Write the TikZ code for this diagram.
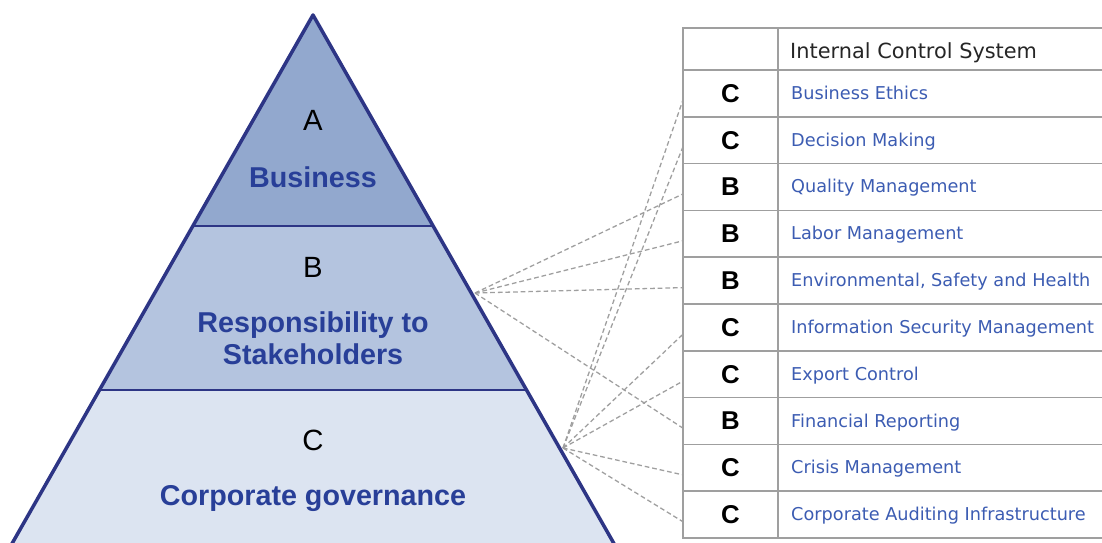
\documentclass[tikz,border=0pt]{standalone}
\usepackage{fontspec}
\setmainfont{Liberation Sans}
\newfontfamily\tablefont{DejaVu Sans}

\definecolor{tierAfill}{HTML}{92A8CE}
\definecolor{tierBfill}{HTML}{B4C4DF}
\definecolor{tierCfill}{HTML}{DCE4F1}
\definecolor{pyrline}{HTML}{2D3585}
\definecolor{pyrtext}{HTML}{283F98}
\definecolor{itemblue}{HTML}{3C5CB2}

\begin{document}
\begin{tikzpicture}[x=0.03cm, y=-0.03cm,
  tier/.style={draw=pyrline, line width=3pt, line join=round},
  tierletter/.style={anchor=base, inner sep=0pt, font=\fontsize{25}{30}\selectfont},
  tiertext/.style={anchor=base, inner sep=0pt, text=pyrtext, font=\fontsize{24.5}{29}\selectfont\bfseries},
  grid/.style={draw=gray!75, line width=1.4pt},
  grade/.style={minimum width=2.85cm, minimum height=1.4cm, inner sep=0pt, font=\fontsize{22}{26}\selectfont\bfseries},
  item/.style={anchor=base west, inner sep=0pt, text=itemblue, font=\tablefont\fontsize{15.1}{18}\selectfont},
  link/.style={draw=gray!75, dashed, dash pattern=on 4pt off 2.5pt, line width=1.1pt}]

\useasboundingbox (0,0) rectangle (1102,543);

% pyramid
\fill[tierCfill] (313,15) -- (633,577) -- (-7,577) -- cycle;
\fill[tierBfill] (313,15) -- (526,390) -- (100,390) -- cycle;
\fill[tierAfill] (313,15) -- (433,226) -- (193,226) -- cycle;
\draw[tier] (-7,577) -- (313,15) -- (633,577);
\draw[tier, line width=2.4pt] (193,226) -- (433,226);
\draw[tier, line width=2.4pt] (100,390) -- (526,390);

% A
\node[tierletter] (lvlA) at (313,131) {A};
\node[tiertext] (tierA) at (313,188) {Business};

% B
\node[tierletter] (lvlB) at (313,278) {B};
\node[tiertext] (tierB) at (313,332) {Responsibility to};
\node[tiertext] (tierBb) at (313,364) {Stakeholders};

% C
\node[tierletter] (lvlC) at (313,450) {C};
\node[tiertext] (tierC) at (313,505) {Corporate governance};

% table
\draw[grid] (1102,28) -- (683,28) -- (683,538) -- (1102,538);
\draw[grid] (778,28) -- (778,538);
\draw[grid] (683,70) -- (1102,70);
\draw[grid] (683,116.8) -- (1102,116.8);
\draw[grid] (683,163.6) -- (1102,163.6);
\draw[grid] (683,210.4) -- (1102,210.4);
\draw[grid] (683,257.2) -- (1102,257.2);
\draw[grid] (683,304) -- (1102,304);
\draw[grid] (683,350.8) -- (1102,350.8);
\draw[grid] (683,397.6) -- (1102,397.6);
\draw[grid] (683,444.4) -- (1102,444.4);
\draw[grid] (683,491.2) -- (1102,491.2);

\node[anchor=base west, inner sep=0pt, text=black!85, font=\tablefont\fontsize{17.8}{21}\selectfont]
  (header) at (790,59) {Internal Control System};

\node[grade] (gEthics) at (730.5,93.4) {C};
\node[item] (iEthics) at (791,99.4) {Business Ethics};

\node[grade] (gDecision) at (730.5,140.2) {C};
\node[item] (iDecision) at (791,146.2) {Decision Making};

\node[grade] (gQuality) at (730.5,187) {B};
\node[item] (iQuality) at (791,193) {Quality Management};

\node[grade] (gLabor) at (730.5,233.8) {B};
\node[item] (iLabor) at (791,239.8) {Labor Management};

\node[grade] (gEnv) at (730.5,280.6) {B};
\node[item] (iEnv) at (791,286.6) {Environmental, Safety and Health};

\node[grade] (gInfo) at (730.5,327.4) {C};
\node[item] (iInfo) at (791,333.4) {Information Security Management};

\node[grade] (gExport) at (730.5,374.2) {C};
\node[item] (iExport) at (791,380.2) {Export Control};

\node[grade] (gFinance) at (730.5,421) {B};
\node[item] (iFinance) at (791,427) {Financial Reporting};

\node[grade] (gCrisis) at (730.5,467.8) {C};
\node[item] (iCrisis) at (791,473.8) {Crisis Management};

\node[grade] (gAudit) at (730.5,514.6) {C};
\node[item] (iAudit) at (791,520.6) {Corporate Auditing Infrastructure};

% links from the pyramid
\coordinate (hubB) at (475,293);
\coordinate (hubC) at (563,448);

\draw[link] (hubB) -- ([yshift=-6pt]gQuality.west);
\draw[link] (hubB) -- ([yshift=-6pt]gLabor.west);
\draw[link] (hubB) -- ([yshift=-6pt]gEnv.west);
\draw[link] (hubB) -- ([yshift=-6pt]gFinance.west);

\draw[link] (hubC) -- ([yshift=-6pt]gEthics.west);
\draw[link] (hubC) -- ([yshift=-6pt]gDecision.west);
\draw[link] (hubC) -- ([yshift=-6pt]gInfo.west);
\draw[link] (hubC) -- ([yshift=-6pt]gExport.west);
\draw[link] (hubC) -- ([yshift=-6pt]gCrisis.west);
\draw[link] (hubC) -- ([yshift=-6pt]gAudit.west);

\end{tikzpicture}
\end{document}
